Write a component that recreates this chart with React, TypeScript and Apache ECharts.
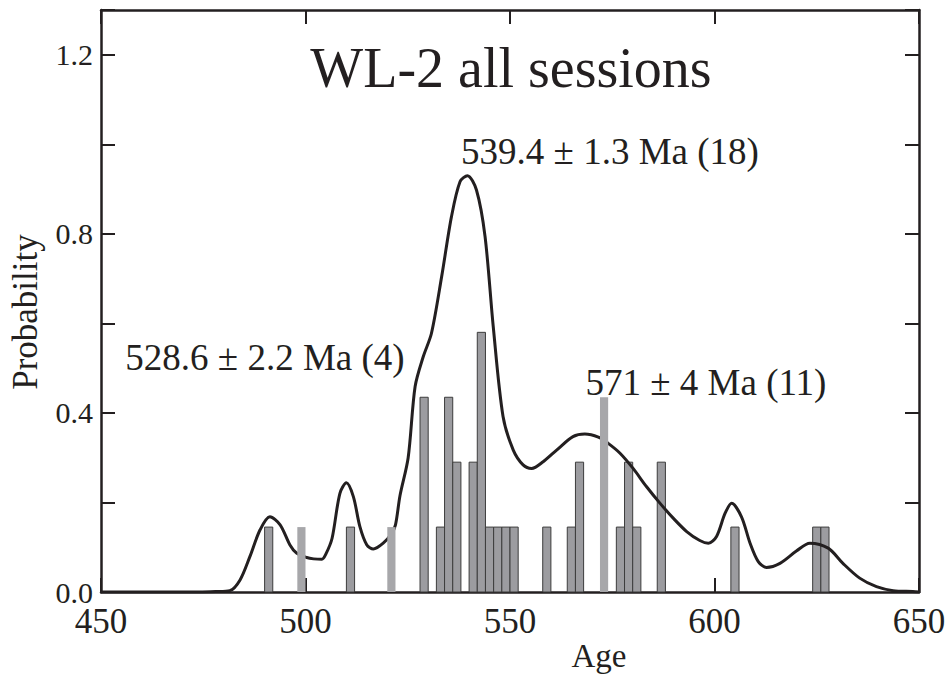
import React, { useEffect, useRef } from "react";
import * as echarts from "echarts";

// Probability density curve (age in Ma, probability)
const curveAges = [450, 460, 470, 474, 478, 481.5, 484, 486.4, 488.9, 491.3, 493.8, 496.2, 497.8, 500.3, 502, 504, 505, 506.5, 508.4, 510, 511.7, 513.3, 515, 516.6, 519, 521, 522, 523.1, 525.1, 526.8, 528.8, 530.8, 533.3, 535.7, 537.8, 539.6, 541.8, 543.9, 545.9, 548.3, 550.8, 553.2, 555.3, 558.1, 561.4, 565.4, 568.3, 571.6, 574, 576.9, 580.1, 583.4, 586.7, 589.9, 593.2, 596.4, 598.5, 600.5, 602.6, 604.2, 606.6, 608.7, 610.7, 612.7, 616, 620.1, 623.3, 627.8, 631.4, 635.5, 639.6, 643.7, 648.5, 650];
const curveProb = [0, 0, 0, 0, 0.001, 0.003, 0.027, 0.079, 0.139, 0.168, 0.15, 0.105, 0.087, 0.077, 0.074, 0.073, 0.085, 0.12, 0.22, 0.244, 0.213, 0.146, 0.105, 0.096, 0.109, 0.13, 0.15, 0.215, 0.3, 0.459, 0.526, 0.578, 0.705, 0.839, 0.917, 0.93, 0.898, 0.794, 0.593, 0.392, 0.317, 0.284, 0.276, 0.291, 0.317, 0.347, 0.353, 0.346, 0.332, 0.31, 0.276, 0.235, 0.198, 0.165, 0.135, 0.115, 0.109, 0.124, 0.176, 0.198, 0.168, 0.109, 0.068, 0.055, 0.064, 0.092, 0.109, 0.098, 0.064, 0.031, 0.012, 0.003, 0.001, 0];

// Histogram bins (bin start in Ma, height) — dark bars
const darkBinStart = [490, 510, 528, 532, 534, 536, 540, 542, 544, 546, 548, 550, 558, 564, 566, 576, 578, 580, 586, 604, 624, 626];
const darkBinHeight = [0.145, 0.145, 0.435, 0.145, 0.435, 0.29, 0.29, 0.58, 0.145, 0.145, 0.145, 0.145, 0.145, 0.145, 0.29, 0.145, 0.29, 0.145, 0.29, 0.145, 0.145, 0.145];
// Light bars
const lightBinStart = [498, 520, 572];
const lightBinHeight = [0.145, 0.145, 0.435];
const binWidth = 2;

const xTicks = [450, 500, 550, 600, 650];
const yLabelled = ["0.0", "0.4", "0.8", "1.2"];

const titleText = "WL-2 all sessions";
const annotations = [
  { text: "539.4 ± 1.3 Ma (18)", x: 610, y: 151 },
  { text: "528.6 ± 2.2 Ma (4)", x: 265, y: 357 },
  { text: "571 ± 4 Ma (11)", x: 706, y: 382 },
];

const FONT = "Liberation Serif, Times New Roman, serif";
const INK = "#231f20";

function barRenderer(fill: string, stroke: string | null) {
  return (params: any, api: any) => {
    const x0 = api.value(0);
    const h = api.value(1);
    const p0 = api.coord([x0, 0]);
    const p1 = api.coord([x0 + binWidth, h]);
    return {
      type: "rect",
      shape: { x: p0[0], y: p1[1], width: p1[0] - p0[0], height: p0[1] - p1[1] },
      style: stroke ? { fill, stroke, lineWidth: 1 } : { fill },
    };
  };
}

export default function App() {
  const ref = useRef<HTMLDivElement>(null);
  useEffect(() => {
    if (!ref.current) return;
    const chart = echarts.init(ref.current, undefined, { renderer: "svg" });
    const tickStyle = { show: true, inside: true, length: 14, lineStyle: { color: INK, width: 2 } };
    const lineStyle = { show: true, onZero: false, lineStyle: { color: INK, width: 2.5 } };
    chart.setOption({
      animation: false,
      backgroundColor: "#ffffff",
      textStyle: { fontFamily: FONT },
      grid: { left: 101, right: 31, top: 10, bottom: 85, containLabel: false },
      xAxis: [
        {
          type: "value",
          min: xTicks[0],
          max: xTicks[xTicks.length - 1],
          interval: xTicks[1] - xTicks[0],
          axisLine: lineStyle,
          axisTick: tickStyle,
          splitLine: { show: false },
          axisLabel: { color: INK, fontFamily: FONT, fontSize: 35, margin: 12 },
        },
        {
          type: "value",
          position: "top",
          min: xTicks[0],
          max: xTicks[xTicks.length - 1],
          interval: xTicks[1] - xTicks[0],
          axisLine: lineStyle,
          axisTick: tickStyle,
          splitLine: { show: false },
          axisLabel: { show: false },
        },
      ],
      yAxis: [
        {
          type: "value",
          min: 0,
          max: 1.3,
          interval: 0.2,
          axisLine: lineStyle,
          axisTick: tickStyle,
          splitLine: { show: false },
          axisLabel: {
            color: INK,
            fontFamily: FONT,
            fontSize: 30,
            margin: 8,
            formatter: (v: number) => {
              const s = v.toFixed(1);
              return yLabelled.includes(s) ? s : "";
            },
          },
        },
        {
          type: "value",
          position: "right",
          min: 0,
          max: 1.3,
          interval: 0.2,
          axisLine: lineStyle,
          axisTick: tickStyle,
          splitLine: { show: false },
          axisLabel: { show: false },
        },
      ],
      series: [
        {
          type: "custom",
          z: 1,
          renderItem: barRenderer("#9c9ca0", "#3c3c3c"),
          encode: { x: 0, y: 1 },
          data: darkBinStart.map((s, i) => [s, darkBinHeight[i]]),
        },
        {
          type: "line",
          z: 2,
          smooth: 0.3,
          showSymbol: false,
          symbol: "none",
          lineStyle: { color: INK, width: 3 },
          data: curveAges.map((a, i) => [a, curveProb[i]]),
        },
        {
          type: "custom",
          z: 3,
          renderItem: barRenderer("#a7a7aa", null),
          encode: { x: 0, y: 1 },
          data: lightBinStart.map((s, i) => [s, lightBinHeight[i]]),
        },
      ],
      graphic: [
        {
          type: "text",
          x: 511,
          y: 68,
          style: { text: titleText, font: "56px " + FONT, fontFamily: FONT, fontSize: 56, fill: INK, align: "center", verticalAlign: "middle" },
        },
        ...annotations.map((a) => ({
          type: "text",
          x: a.x,
          y: a.y,
          style: { text: a.text, fontFamily: FONT, fontSize: 37, fill: INK, align: "center", verticalAlign: "middle" },
        })),
        {
          type: "text",
          x: 25,
          y: 312,
          rotation: Math.PI / 2,
          style: { text: "Probability", fontFamily: FONT, fontSize: 35, fill: INK, align: "center", verticalAlign: "middle" },
        },
        {
          type: "text",
          x: 599,
          y: 656,
          style: { text: "Age", fontFamily: FONT, fontSize: 33, fill: INK, align: "center", verticalAlign: "middle" },
        },
      ],
    });
    return () => chart.dispose();
  }, []);
  return (
    <div
      ref={ref}
      style={{ position: "fixed", left: 0, top: 0, width: 950, height: 677, background: "#fff" }}
    />
  );
}
